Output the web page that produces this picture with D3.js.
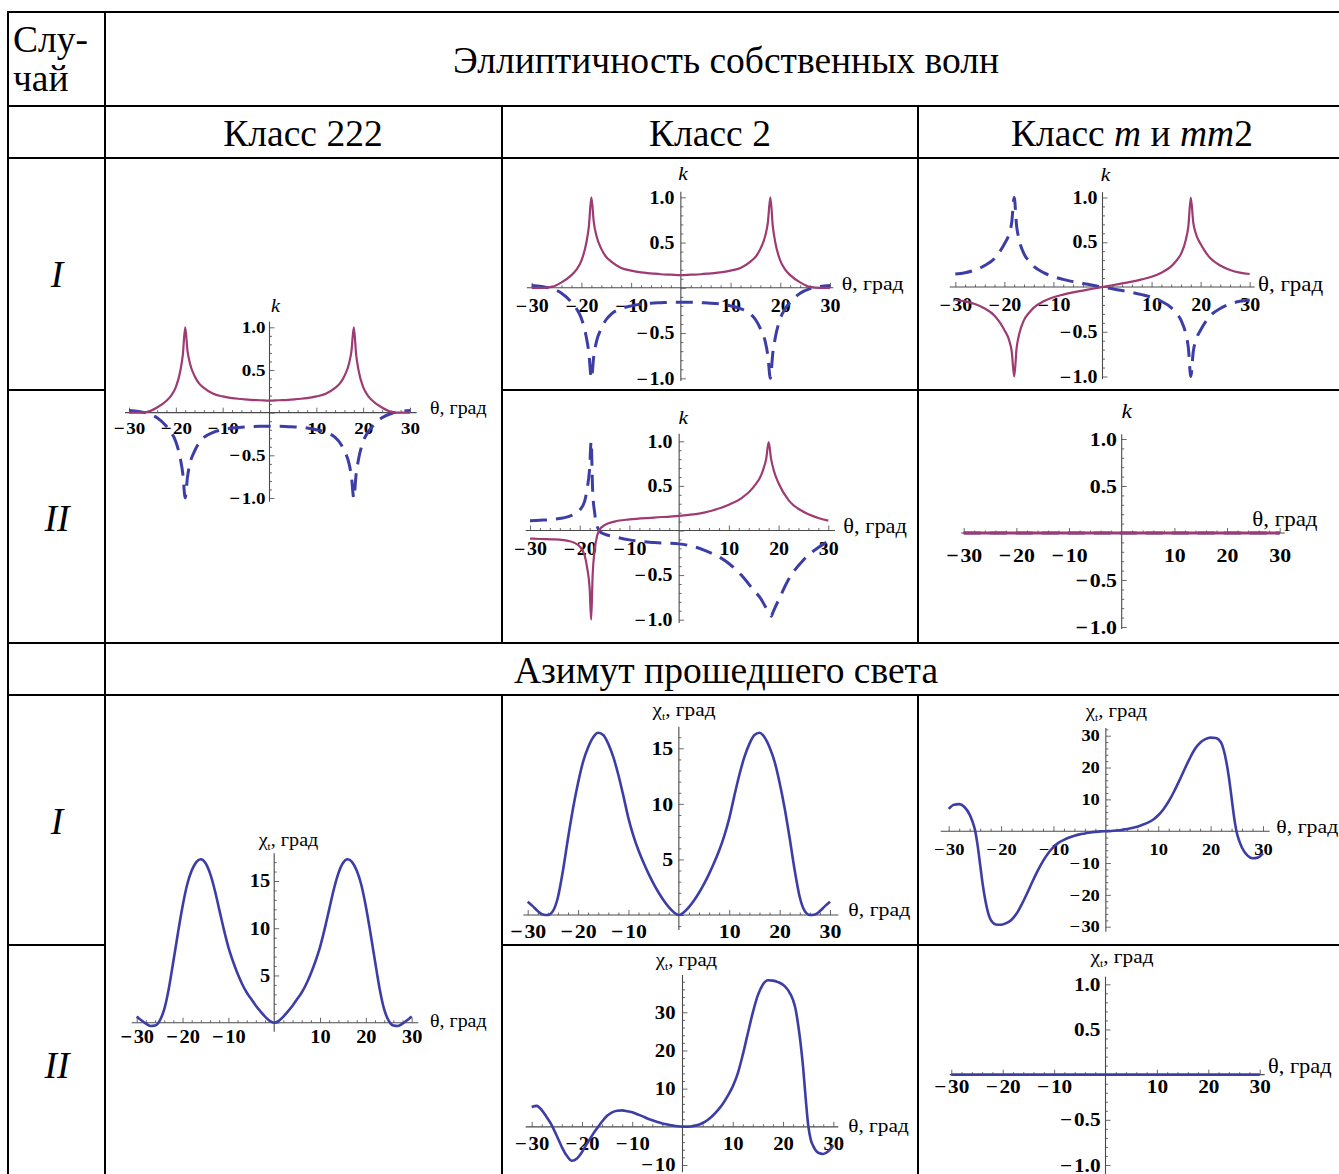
<!DOCTYPE html>
<html>
<head>
<meta charset="utf-8">
<script src="https://cdn.jsdelivr.net/npm/d3@7"></script>
<style>
  html, body { margin: 0; padding: 0; background: #fff; }
  svg { display: block; }
</style>
</head>
<body>
<script>
// ---------------------------------------------------------------
// Data: ellipticity k of the two eigenwaves and azimuth χ of the
// transmitted light versus angle θ (degrees) for crystal classes.
// ---------------------------------------------------------------

// θ grid for the class 222 / class 2 (case I) and class m (case I) ellipticity curves
const thetaK = [-30,-28,-26,-24,-22,-21,-20,-19,-18.5,-18,-17.5,-17,-16,-15,-14,-12,-10,-8,-6,-4,-2,
  0,2,4,6,8,10,12,14,15,16,17,17.5,18,18.5,19,20,21,22,24,26,28,30];

// class 222 and class 2, case I
const k222Solid = [0.0,0.0,0.01,0.06,0.14,0.2,0.3,0.5,0.68,1.0,0.72,0.58,0.43,0.34,0.29,0.22,0.19,0.17,0.16,0.15,0.145,
  0.14,0.145,0.15,0.16,0.17,0.19,0.22,0.29,0.34,0.43,0.58,0.72,1.0,0.68,0.5,0.3,0.2,0.14,0.06,0.01,0.0,0.0];
const k222Dashed = [0.025,0.015,-0.01,-0.06,-0.16,-0.23,-0.34,-0.55,-0.72,-1.0,-0.75,-0.6,-0.45,-0.35,-0.29,-0.23,-0.2,-0.18,-0.17,-0.165,-0.16,
  -0.16,-0.16,-0.165,-0.17,-0.18,-0.2,-0.23,-0.29,-0.35,-0.45,-0.6,-0.75,-1.0,-0.72,-0.55,-0.34,-0.23,-0.16,-0.06,-0.01,0.015,0.025];

// class m, case I
const kmSolid = [-0.145,-0.16,-0.19,-0.24,-0.32,-0.39,-0.48,-0.6,-0.72,-1.0,-0.68,-0.53,-0.37,-0.29,-0.23,-0.16,-0.115,-0.085,-0.06,-0.04,-0.02,
  0,0.02,0.04,0.06,0.085,0.115,0.16,0.23,0.29,0.37,0.53,0.68,1.0,0.72,0.6,0.48,0.39,0.32,0.24,0.19,0.16,0.145];
const kmDashed = [0.145,0.16,0.19,0.24,0.32,0.39,0.48,0.6,0.72,1.0,0.68,0.53,0.37,0.29,0.23,0.16,0.115,0.085,0.06,0.04,0.02,
  0,-0.02,-0.04,-0.06,-0.085,-0.115,-0.16,-0.23,-0.29,-0.37,-0.53,-0.68,-1.0,-0.72,-0.6,-0.48,-0.39,-0.32,-0.24,-0.19,-0.16,-0.145];

// class 2, case II
const thetaK2 = [-30,-28,-25,-22,-20,-19,-18.5,-18,-17.7,-17.4,-17,-16.5,-16,-15,-13,-10,-5,
  0,5,10,12.5,15,16.5,17,17.5,18,18.5,19,20,22,25,28,30];
const k2Solid = [-0.09,-0.095,-0.1,-0.12,-0.18,-0.28,-0.42,-0.65,-1.0,-0.5,-0.22,-0.06,0.01,0.06,0.1,0.125,0.145,
  0.165,0.2,0.29,0.36,0.49,0.62,0.7,0.8,0.99,0.8,0.68,0.53,0.34,0.21,0.14,0.11];
const k2Dashed = [0.11,0.115,0.127,0.16,0.23,0.33,0.47,0.7,1.0,0.45,0.2,0.05,-0.01,-0.04,-0.07,-0.105,-0.135,
  -0.15,-0.22,-0.37,-0.5,-0.67,-0.77,-0.82,-0.87,-0.92,-0.96,-0.9,-0.78,-0.55,-0.33,-0.19,-0.12];

// class m, case II: both waves linear
const thetaFlat = [-30,-20,-10,0,10,20,30];
const kFlatSolid = [0,0,0,0,0,0,0];
const kFlatDashed = [0,0,0,0,0,0,0];

// azimuth, class 222 and class 2 (case I)
const thetaDeg = [-30,-29,-28,-27,-26,-25,-24,-23,-22,-21,-20,-19,-18,-17,-16,-15,-14,-13,-12,-11,-10,-9,-8,-7,-6,-5,-4,-3,-2,-1,
  0,1,2,3,4,5,6,7,8,9,10,11,12,13,14,15,16,17,18,19,20,21,22,23,24,25,26,27,28,29,30];
const chi222 = [0.65,0.25,-0.1,-0.35,-0.3,0.2,1.4,3.6,6.5,9.5,12.3,14.6,16.1,17.0,17.3,16.9,15.8,14.1,12.0,9.9,8.0,6.5,5.2,4.1,3.2,2.5,1.8,1.2,0.65,0.2,
  0.0,0.2,0.65,1.2,1.8,2.5,3.2,4.1,5.2,6.5,8.0,9.9,12.0,14.1,15.8,16.9,17.3,17.0,16.1,14.6,12.3,9.5,6.5,3.6,1.4,0.2,-0.3,-0.35,-0.1,0.25,0.65];
const chi2I = [1.2,0.8,0.35,0.05,0.0,0.35,1.6,4.0,6.9,9.6,11.9,13.8,15.1,16.0,16.4,16.2,15.4,14.2,12.6,10.7,8.7,7.1,5.8,4.7,3.7,2.8,2.0,1.3,0.7,0.25,
  0.0,0.25,0.7,1.3,2.0,2.8,3.7,4.7,5.8,7.1,8.7,10.7,12.6,14.2,15.4,16.2,16.4,16.0,15.1,13.8,11.9,9.6,6.9,4.0,1.6,0.35,0.0,0.05,0.35,0.8,1.2];

// azimuth, class m (case I)
const thetaMI = [-30,-29,-28,-27,-26,-25.5,-25,-24.5,-24,-23.5,-23,-22.5,-22,-21,-20,-19,-18,-17,-16,-15,-14,-13,-12,-11,-10,-9,-8,-7,-6,-5,-4,-3,-2,-1,
  0,1,2,3,4,5,6,7,8,9,10,11,12,13,14,15,16,17,18,19,20,21,22,22.5,23,23.5,24,24.5,25,25.5,26,27,28,29,30];
const chiMI = [7.0,8.3,8.5,7.6,5.2,3.2,0.5,-4.2,-10.5,-16.8,-21.8,-25.5,-27.8,-29.3,-29.4,-28.9,-27.8,-25.8,-22.8,-19.4,-15.8,-12.4,-9.4,-6.9,-5.0,-3.6,-2.7,-2.0,-1.4,-1.0,-0.7,-0.4,-0.2,-0.06,
  0,0.06,0.2,0.4,0.7,1.0,1.4,2.0,2.7,3.6,5.0,6.9,9.4,12.4,15.8,19.4,22.8,25.8,27.8,28.9,29.4,29.3,27.8,25.5,21.8,16.8,10.5,4.2,-0.5,-3.2,-5.2,-7.6,-8.5,-8.3,-7.0];

// azimuth, class 2 (case II)
const thetaII = [-30,-29,-28,-27,-26,-25,-24,-23,-22,-21,-20,-19,-18,-17,-16,-15,-14,-13,-12,-11,-10,-9,-8,-7,-6,-5,-4,-3,-2,-1,
  0,1,2,3,4,5,6,7,8,9,10,11,12,13,14,15,16,17,18,19,20,21,22,22.5,23,23.5,24,24.5,25,25.5,26,27,28,29,30];
const chi2II = [5.2,5.5,4.4,2.5,0.4,-2.4,-5.3,-7.6,-8.9,-8.3,-6.6,-4.4,-2.3,-0.4,1.4,2.9,3.8,4.2,4.3,4.1,3.8,3.3,2.8,2.2,1.7,1.25,0.9,0.6,0.35,0.15,
  0.05,0.05,0.15,0.45,1.0,1.8,2.9,4.3,6.0,8.1,10.6,14.0,18.9,24.5,30.0,34.5,37.3,38.4,38.3,37.9,37.2,35.8,33.2,
  30.8,26.8,21.8,15.5,7.5,0.5,-3.3,-5.0,-6.8,-7.1,-6.4,-4.8];

// azimuth, class m (case II)
const chiFlat = [0,0,0,0,0,0,0];

// tick labels
const thetaLabels = [-30,-20,-10,10,20,30];
const kLabels = [-1,-0.5,0.5,1];
const chiLabels15 = [5,10,15];
const chiLabelsMI = [-30,-20,-10,10,20,30];
const chiLabelsII = [-10,10,20,30];

// table text
const headTop = "Эллиптичность собственных волн";
const headAzimuth = "Азимут прошедшего света";
const caseWord = ["Слу-", "чай"];
const caseLabels = ["I", "II"];

// ---------------------------------------------------------------
const W = 1339, H = 1174;
const SERIF = "'Liberation Serif','Times New Roman',Times,serif";
const SX = 1.12;                  // horizontal stretch of the plot lettering
const MAGENTA = "#9d3b72", BLUE = "#3c3ea6";
const AXIS = "#4a4a4a", TICK = "#6a6a6a";

const svg = d3.select("body").append("svg").attr("width", W).attr("height", H);
svg.append("rect").attr("width", W).attr("height", H).attr("fill", "#fff");

// ---- table rules ----
const rules = [
  [8,12,W,12],[8,106,W,106],[8,158,W,158],
  [8,390,105,390],[502,390,W,390],
  [8,643,W,643],[8,695,W,695],
  [8,945,105,945],[502,945,W,945],
  [8,12,8,H],[105,12,105,H],
  [502,106,502,643],[918,106,918,643],
  [502,695,502,H],[918,695,918,H]
];
svg.append("g").selectAll("line").data(rules).join("line")
  .attr("x1", d => d[0]).attr("y1", d => d[1]).attr("x2", d => d[2]).attr("y2", d => d[3])
  .attr("stroke", "#000").attr("stroke-width", 2).attr("stroke-linecap", "square");

// ---- table text ----
const T = svg.append("g").attr("font-family", SERIF).attr("font-size", 37.5).attr("fill", "#000");
T.append("text").attr("x", 13).attr("y", 52).text(caseWord[0]);
T.append("text").attr("x", 13).attr("y", 91).text(caseWord[1]);
T.append("text").attr("x", 726).attr("y", 73).attr("text-anchor", "middle").text(headTop);
T.append("text").attr("x", 303).attr("y", 146).attr("text-anchor", "middle").text("Класс 222");
T.append("text").attr("x", 710).attr("y", 146).attr("text-anchor", "middle").text("Класс 2");
const tm = T.append("text").attr("x", 1132).attr("y", 146).attr("text-anchor", "middle");
tm.append("tspan").text("Класс ");
tm.append("tspan").attr("font-style", "italic").text("m");
tm.append("tspan").text(" и ");
tm.append("tspan").attr("font-style", "italic").text("mm");
tm.append("tspan").text("2");
T.append("text").attr("x", 726).attr("y", 683).attr("text-anchor", "middle").text(headAzimuth);
[[287, 0], [531, 1], [834, 0], [1078, 1]].forEach(([y, i]) => {
  T.append("text").attr("x", 57).attr("y", y).attr("text-anchor", "middle")
    .attr("font-style", "italic").text(caseLabels[i]);
});

// ---- plot helpers ----
const fmtK = d3.format(".1f");
const fmtA = d3.format("d");

// bold stretched tick labels; a negative label gets its minus sign set slightly apart
function styleTickText(g, fs) {
  g.selectAll("text").each(function (d) {
    const t = d3.select(this);
    const x = +(t.attr("x") || 0), y = +(t.attr("y") || 0);
    const str = t.text();
    t.attr("x", null).attr("y", null)
      .attr("transform", `translate(${x},${y}) scale(${SX},1)`)
      .attr("fill", "#000").attr("font-weight", "bold")
      .attr("font-family", SERIF).attr("font-size", fs);
    if (d < 0) {
      t.text(null);
      t.append("tspan").text("\u2212");
      t.append("tspan").attr("dx", fs * 0.08).text(str.replace(/^[-\u2212]/, ""));
    }
  });
}

function sText(parent, x, y, anchor, fs) {
  return parent.append("text")
    .attr("transform", `translate(${x},${y}) scale(${SX},1)`)
    .attr("text-anchor", anchor).attr("font-family", SERIF)
    .attr("font-size", fs).attr("fill", "#000");
}

function drawPanel(p) {
  const g = svg.append("g");
  const x = d3.scaleLinear().domain([-30, 30]).range(p.xr);
  const y = d3.scaleLinear().domain(p.yd).range(p.yr);
  const x0 = x(0), y0 = y(0);

  // minor / major ticks on θ axis
  const xMinor = d3.range(-30, 31, 2).filter(v => v % 10 !== 0);
  const gxm = g.append("g").attr("transform", `translate(0,${y0})`)
    .call(d3.axisBottom(x).tickValues(xMinor).tickSizeInner(-2.5).tickSizeOuter(0).tickFormat(""));
  const gx = g.append("g").attr("transform", `translate(0,${y0})`)
    .call(d3.axisBottom(x).tickValues(thetaLabels).tickSizeInner(-5).tickSizeOuter(0)
      .tickPadding(p.xDy - 0.71 * p.fs).tickFormat(fmtA));
  // ticks on the vertical axis
  const [ya, yb] = p.yExt;
  const yMinor = d3.range(Math.ceil(ya / p.yMinor) * p.yMinor, yb, p.yMinor)
    .map(v => +v.toFixed(4)).filter(v => Math.abs(v / p.yMajor - Math.round(v / p.yMajor)) > 1e-6);
  const yMajor = d3.range(Math.ceil(ya / p.yMajor) * p.yMajor, yb, p.yMajor).map(v => +v.toFixed(4));
  const gym = g.append("g").attr("transform", `translate(${x0},0)`)
    .call(d3.axisLeft(y).tickValues(yMinor).tickSizeInner(-2.5).tickSizeOuter(0).tickFormat(""));
  const gyM = g.append("g").attr("transform", `translate(${x0},0)`)
    .call(d3.axisLeft(y).tickValues(yMajor).tickSizeInner(-5).tickSizeOuter(0).tickFormat(""));
  const gy = g.append("g").attr("transform", `translate(${x0},0)`)
    .call(d3.axisLeft(y).tickValues(p.yLabels).tickSizeInner(0).tickSizeOuter(0)
      .tickPadding(p.yGap).tickFormat(p.fmt));
  [gxm, gx, gym, gyM, gy].forEach(a => {
    a.select(".domain").remove();
    a.selectAll(".tick line").attr("stroke", TICK).attr("stroke-width", 1);
  });
  styleTickText(gx, p.fs);
  styleTickText(gy, p.fs);

  // axis lines
  g.append("line").attr("x1", x(p.xExt[0])).attr("x2", x(p.xExt[1]))
    .attr("y1", y0).attr("y2", y0).attr("stroke", AXIS).attr("stroke-width", 1.1);
  g.append("line").attr("x1", x0).attr("x2", x0)
    .attr("y1", y(ya)).attr("y2", y(yb)).attr("stroke", AXIS).attr("stroke-width", 1.1);

  // axis titles
  if (p.yTitle === "k") {
    sText(g, x0 + p.yt[0], p.yt[1], "middle", p.ytFs).attr("font-style", "italic").text("k");
  } else {
    const t = sText(g, p.yt[0], p.yt[1], "middle", p.ytFs);
    t.append("tspan").text("χ");
    t.append("tspan").attr("font-size", p.ytFs * 0.55).attr("dy", p.ytFs * 0.2).text("t");
    t.append("tspan").attr("dy", -p.ytFs * 0.2).text(", град");
  }
  sText(g, p.th[0], p.th[1], "start", p.th[2]).text("θ, град");

  // curves
  const line = d3.line().x(d => x(d[0])).y(d => y(d[1])).curve(d3.curveMonotoneX);
  p.series.forEach(s => {
    g.append("path").datum(d3.zip(s.th, s.v))
      .attr("d", line).attr("fill", "none")
      .attr("stroke", s.color).attr("stroke-width", s.w)
      .attr("stroke-dasharray", s.dash || null)
      .attr("stroke-linejoin", "round");
  });
}

const dashed = (th, v) => ({ th, v, color: BLUE, w: 3, dash: "17,9" });
const solid = (th, v, w = 2.2) => ({ th, v, color: MAGENTA, w });
const azim = (th, v) => ({ th, v, color: BLUE, w: 2.6 });

const kCommon = { yd: [-1, 1], yLabels: kLabels, yMinor: 0.1, yMajor: 0.5, fmt: fmtK, yTitle: "k" };
const panels = [
  // Ellipticity, class 222 (cases I and II)
  Object.assign({}, kCommon, { xr: [129, 410], yr: [498, 327.3], xExt: [-30.85, 31.43], yExt: [-1.043, 1.066],
    fs: 17, xDy: 21, yGap: 4, yt: [6, 312], ytFs: 18, th: [430, 414, 17.8],
    series: [dashed(thetaK, k222Dashed), solid(thetaK, k222Solid)] }),
  // Ellipticity, class 2, case I
  Object.assign({}, kCommon, { xr: [531.7, 830], yr: [378.3, 197.3], xExt: [-31, 30.66], yExt: [-1.03, 1.06],
    fs: 17.8, xDy: 24.5, yGap: 6.5, yt: [2, 180], ytFs: 19, th: [841.7, 290, 19.5],
    series: [dashed(thetaK, k222Dashed), solid(thetaK, k222Solid)] }),
  // Ellipticity, class m, case I
  Object.assign({}, kCommon, { xr: [955.3, 1249.7], yr: [376.5, 197.5], xExt: [-31.14, 31.02], yExt: [-1.03, 1.06],
    fs: 17.8, xDy: 24, yGap: 5, yt: [3, 181], ytFs: 19, th: [1258, 290.5, 20.5],
    series: [dashed(thetaK, kmDashed), solid(thetaK, kmSolid)] }),
  // Ellipticity, class 2, case II
  Object.assign({}, kCommon, { xr: [530, 828.3], yr: [619.7, 441.3], xExt: [-30.86, 31.34], yExt: [-1.037, 1.085],
    fs: 17.8, xDy: 24.8, yGap: 6.7, yt: [4, 424], ytFs: 19, th: [843.3, 533, 20],
    series: [dashed(thetaK2, k2Dashed), solid(thetaK2, k2Solid)] }),
  // Ellipticity, class m, case II
  Object.assign({}, kCommon, { xr: [963.7, 1279.7], yr: [627, 439], xExt: [-30.5, 30.95], yExt: [-1.02, 1.05],
    fs: 19.5, xDy: 29, yGap: 4.7, yt: [5, 418], ytFs: 21, th: [1252.3, 526, 20.5],
    series: [dashed(thetaFlat, kFlatDashed), solid(thetaFlat, kFlatSolid, 3)] }),
  // Azimuth, class 222
  { xr: [136.7, 411.7], yd: [0, 15], yr: [1022.7, 881], xExt: [-31.09, 31.44], yExt: [-0.95, 17.93],
    yLabels: chiLabels15, yMinor: 1, yMajor: 5, fmt: fmtA, yTitle: "chi",
    fs: 18.2, xDy: 20.5, yGap: 4, yt: [288.5, 846], ytFs: 18, th: [430, 1027, 17.8],
    series: [azim(thetaDeg, chi222)] },
  // Azimuth, class 2, case I
  { xr: [527.7, 830], yd: [0, 15], yr: [915, 748.3], xExt: [-30.87, 31.65], yExt: [-1.35, 16.95],
    yLabels: chiLabels15, yMinor: 1, yMajor: 5, fmt: fmtA, yTitle: "chi",
    fs: 19.5, xDy: 22.5, yGap: 5.6, yt: [684, 716], ytFs: 19, th: [848.3, 916, 19.5],
    series: [azim(thetaDeg, chi2I)] },
  // Azimuth, class m, case I
  { xr: [948.7, 1263], yd: [-30, 30], yr: [926.7, 735.7], xExt: [-31.53, 31.28], yExt: [-31.6, 32.4],
    yLabels: chiLabelsMI, yMinor: 2, yMajor: 10, fmt: fmtA, yTitle: "chi",
    fs: 16.5, xDy: 23.5, yGap: 6, yt: [1116.5, 717], ytFs: 18.5, th: [1276.3, 833, 19.5],
    series: [azim(thetaMI, chiMI)] },
  // Azimuth, class 2, case II
  { xr: [531.7, 833.3], yd: [-10, 30], yr: [1165, 1012.3], xExt: [-31.19, 30.99], yExt: [-11.9, 39.8],
    yLabels: chiLabelsII, yMinor: 2, yMajor: 10, fmt: fmtA, yTitle: "chi",
    fs: 18.5, xDy: 23.6, yGap: 7, yt: [686.5, 966], ytFs: 18.5, th: [848.3, 1132, 19],
    series: [azim(thetaII, chi2II)] },
  // Azimuth, class m, case II
  { xr: [951.3, 1259.7], yd: [-1, 1], yr: [1165, 984.3], xExt: [-30.31, 30.97], yExt: [-1.1, 1.085],
    yLabels: kLabels, yMinor: 0.1, yMajor: 0.5, fmt: fmtK, yTitle: "chi",
    fs: 19, xDy: 18, yGap: 5, yt: [1122, 963], ytFs: 19, th: [1268, 1073, 20],
    series: [azim(thetaFlat, chiFlat)] }
];

panels.forEach(drawPanel);
</script>
</body>
</html>
